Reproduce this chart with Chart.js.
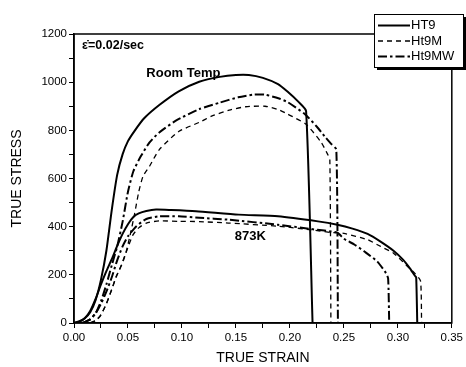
<!DOCTYPE html>
<html><head><meta charset="utf-8">
<script src="https://cdn.jsdelivr.net/npm/chart.js@4.4.0/dist/chart.umd.min.js"></script>
<style>html,body{margin:0;padding:0;background:#fff}</style>
</head><body>
<canvas id="c" width="466" height="367"></canvas>
<script>
// ---- data ----
const seriesNames = ['HT9', 'Ht9M', 'Ht9MW'];
const xTickLabels = ['0.00','0.05','0.10','0.15','0.20','0.25','0.30','0.35'];
const yTickLabels = ['0','200','400','600','800','1000','1200'];

// Room temperature
const ht9RoomStrain   = [0,0.005,0.01,0.015,0.02,0.025,0.03,0.035,0.04,0.045,0.05,0.056,0.065,0.079,0.097,0.116,0.135,0.15,0.162,0.175,0.189,0.198,0.208,0.215,0.221];
const ht9RoomStress   = [0,8,20,45,95,180,300,470,615,700,755,797,850,905,962,1002,1022,1030,1030,1018,992,960,918,880,0];
const ht9mRoomStrain  = [0.015,0.02,0.025,0.03,0.035,0.04,0.045,0.048,0.052,0.056,0.06,0.064,0.07,0.079,0.097,0.116,0.128,0.145,0.159,0.177,0.19,0.198,0.215,0.229,0.235,0.237,0.238];
const ht9mRoomStress  = [0,10,35,80,140,200,250,290,365,450,545,610,651,720,795,833,860,885,898,900,885,867,825,750,700,679,0];
const ht9mwRoomStrain = [0.008,0.015,0.02,0.025,0.03,0.035,0.04,0.045,0.05,0.055,0.062,0.07,0.079,0.094,0.116,0.135,0.152,0.166,0.177,0.19,0.198,0.214,0.225,0.232,0.238,0.243,0.2445];
const ht9mwRoomStress = [0,15,40,90,160,240,318,420,545,630,693,750,791,839,888,915,937,948,948,932,917,867,815,776,745,720,0];

// 873 K
const ht9HotStrain   = [0,0.005,0.01,0.015,0.02,0.025,0.03,0.035,0.04,0.045,0.05,0.055,0.06,0.067,0.076,0.09,0.113,0.1525,0.189,0.226,0.244,0.258,0.272,0.284,0.296,0.305,0.311,0.316,0.317,0.318];
const ht9HotStress   = [0,5,20,50,100,160,215,265,320,370,410,440,455,465,471,469,464,450,443,422,408,392,370,338,300,262,228,195,190,0];
const ht9mHotStrain  = [0.015,0.02,0.024,0.03,0.035,0.039,0.042,0.048,0.0545,0.06,0.067,0.079,0.097,0.116,0.143,0.189,0.22,0.238,0.25,0.272,0.284,0.296,0.309,0.316,0.321,0.322];
const ht9mHotStress  = [0,10,26,80,140,193,220,290,365,395,415,424,422,421,415,402,387,376,372,346,318,290,235,205,175,0];
const ht9mwHotStrain = [0.008,0.015,0.02,0.025,0.03,0.035,0.04,0.045,0.05,0.0576,0.067,0.079,0.097,0.116,0.143,0.189,0.22,0.244,0.25,0.26,0.269,0.281,0.289,0.291,0.292];
const ht9mwHotStress = [0,15,40,80,130,190,260,318,360,401,432,443,443,437,429,408,390,375,350,325,297,255,207,185,0];

// ---- build chart ----
const pts = (xs, ys) => xs.map((x, i) => ({x: x, y: ys[i]}));
const styles = [
  {borderWidth: 2, borderDash: []},
  {borderWidth: 1.3, borderDash: [5, 4]},
  {borderWidth: 2, borderDash: [9, 3, 2.5, 3]}
];
function ds(label, idx, xs, ys) {
  return Object.assign({label: label, data: pts(xs, ys), showLine: true, borderColor: '#000',
    backgroundColor: '#000', pointRadius: 0, fill: false, tension: 0.2}, styles[idx]);
}
const datasets = [
  ds(seriesNames[0], 0, ht9RoomStrain, ht9RoomStress),
  ds(seriesNames[1], 1, ht9mRoomStrain, ht9mRoomStress),
  ds(seriesNames[2], 2, ht9mwRoomStrain, ht9mwRoomStress),
  ds(seriesNames[0], 0, ht9HotStrain, ht9HotStress),
  ds(seriesNames[1], 1, ht9mHotStrain, ht9mHotStress),
  ds(seriesNames[2], 2, ht9mwHotStrain, ht9mwHotStress)
];

const FONT = "'Liberation Sans', Arial, sans-serif";
Chart.defaults.font.family = FONT;
Chart.defaults.color = '#000';

const xMajor = xTickLabels.map(parseFloat);
const yMajor = yTickLabels.map(parseFloat);

const framePlugin = {
  id: 'frame',
  afterDatasetsDraw(chart) {
    const {ctx, chartArea: a} = chart;
    ctx.save();
    ctx.strokeStyle = '#000'; ctx.lineWidth = 1.5;
    ctx.strokeRect(a.left, a.top, a.right - a.left, a.bottom - a.top);
    ctx.restore();
  }
};

const notesPlugin = {
  id: 'notes',
  afterDatasetsDraw(chart) {
    const {ctx} = chart;
    const xs = chart.scales.x, ys = chart.scales.y;
    ctx.save();
    ctx.fillStyle = '#000';
    ctx.textBaseline = 'middle';
    ctx.font = 'bold 12.5px ' + FONT;
    ctx.fillText('\u03B5\u0307=0.02/sec', xs.getPixelForValue(0.0075), ys.getPixelForValue(1150));
    ctx.font = 'bold 13px ' + FONT;
    ctx.fillText('Room Temp', xs.getPixelForValue(0.067), ys.getPixelForValue(1037));
    ctx.fillText('873K', xs.getPixelForValue(0.149), ys.getPixelForValue(360));
    ctx.restore();
  }
};

const legendPlugin = {
  id: 'boxLegend',
  afterDraw(chart) {
    const {ctx} = chart;
    const x0 = 374, y0 = 14, w = 89, h = 53;
    ctx.save();
    ctx.fillStyle = '#000';
    ctx.fillRect(x0 + 3, y0 + 3, w, h);
    ctx.fillStyle = '#fff';
    ctx.fillRect(x0, y0, w, h);
    ctx.strokeStyle = '#000'; ctx.lineWidth = 1;
    ctx.strokeRect(x0 + 0.5, y0 + 0.5, w, h);
    ctx.font = '13px ' + FONT;
    ctx.textBaseline = 'middle';
    for (let i = 0; i < 3; i++) {
      const d = chart.data.datasets[i];
      const yy = y0 + 11.5 + i * 15.5;
      ctx.beginPath();
      ctx.setLineDash(d.borderDash);
      ctx.lineWidth = d.borderWidth;
      ctx.moveTo(x0 + 4, yy); ctx.lineTo(x0 + 36, yy);
      ctx.stroke();
      ctx.setLineDash([]);
      ctx.fillStyle = '#000';
      ctx.fillText(d.label, x0 + 37, yy);
    }
    ctx.restore();
  }
};

new Chart(document.getElementById('c'), {
  type: 'scatter',
  data: {datasets: datasets},
  plugins: [framePlugin, notesPlugin, legendPlugin],
  options: {
    responsive: false, animation: false,
    layout: {padding: {top: 34, right: 11, left: 0, bottom: 0}},
    plugins: {legend: {display: false}, tooltip: {enabled: false}, title: {display: false}},
    elements: {line: {borderCapStyle: 'butt', borderJoinStyle: 'round'}},
    scales: {
      x: {
        type: 'linear', min: 0, max: 0.35,
        afterFit(s) { s.height = 44; },
        afterBuildTicks(s) {
          const t = [];
          for (let i = 0; i < xMajor.length; i++) {
            t.push({value: xMajor[i]});
            if (i < xMajor.length - 1) t.push({value: (xMajor[i] + xMajor[i + 1]) / 2});
          }
          s.ticks = t;
        },
        ticks: {
          autoSkip: false, maxRotation: 0, padding: 3,
          font: {size: 11.5},
          callback(v) { const k = xMajor.findIndex(m => Math.abs(m - v) < 1e-9); return k >= 0 ? xTickLabels[k] : ''; }
        },
        grid: {drawOnChartArea: false, drawTicks: true, tickLength: 5, color: '#000', lineWidth: 1},
        border: {display: true, color: '#000', width: 1.5},
        title: {display: true, text: 'TRUE STRAIN', font: {size: 14}, padding: {top: 0, bottom: 0}}
      },
      y: {
        type: 'linear', min: 0, max: 1200,
        afterFit(s) { s.width = 74; },
        afterBuildTicks(s) {
          const t = [];
          for (let i = 0; i < yMajor.length; i++) {
            t.push({value: yMajor[i]});
            if (i < yMajor.length - 1) t.push({value: (yMajor[i] + yMajor[i + 1]) / 2});
          }
          s.ticks = t;
        },
        ticks: {
          autoSkip: false, padding: 2,
          font: {size: 11.5},
          callback(v) { const k = yMajor.findIndex(m => Math.abs(m - v) < 1e-9); return k >= 0 ? yTickLabels[k] : ''; }
        },
        grid: {drawOnChartArea: false, drawTicks: true, tickLength: 5, color: '#000', lineWidth: 1},
        border: {display: true, color: '#000', width: 1.5},
        title: {display: true, text: 'TRUE STRESS', font: {size: 14}, padding: {top: 8.5, bottom: 0}}
      }
    }
  }
});
</script>
</body></html>
